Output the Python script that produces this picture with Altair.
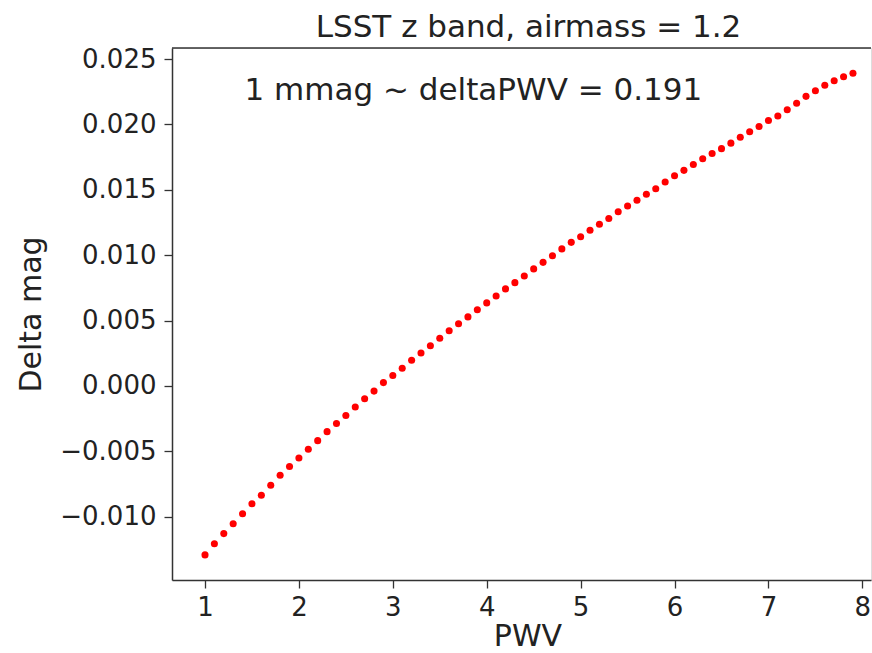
import altair as alt
import pandas as pd

pwv = [round(1.0 + 0.1 * i, 1) for i in range(70)]
delta_mmag = [
    -12.93, -12.07, -11.30, -10.54, -9.78, -9.02, -8.36, -7.60, -6.84, -6.17,
    -5.51, -4.85, -4.19, -3.50, -2.88, -2.26, -1.62, -0.99, -0.40, 0.25,
    0.79, 1.35, 1.96, 2.52, 3.07, 3.64, 4.22, 4.75, 5.28, 5.82,
    6.35, 6.88, 7.42, 7.90, 8.41, 8.95, 9.45, 9.96, 10.48, 10.98,
    11.41, 11.91, 12.37, 12.80, 13.32, 13.76, 14.20, 14.66, 15.08, 15.60,
    16.08, 16.49, 16.94, 17.38, 17.78, 18.15, 18.57, 19.02, 19.44, 19.85,
    20.30, 20.65, 21.12, 21.62, 22.15, 22.58, 23.00, 23.35, 23.65, 23.92,
]
delta_mag = [v / 1000.0 for v in delta_mmag]

x_ticks = [1, 2, 3, 4, 5, 6, 7, 8]
y_ticks = [-0.010, -0.005, 0.000, 0.005, 0.010, 0.015, 0.020, 0.025]

title_text = "LSST z band, airmass = 1.2"
note_text = "1 mmag ~ deltaPWV = 0.191"
note_x = [1.42]
note_y = [0.02187]

W, H = 699, 532
FONT = "DejaVu Sans"
TXT = "#222222"

df = pd.DataFrame({"PWV": pwv, "Delta mag": delta_mag})
note_df = pd.DataFrame({"x": note_x, "y": note_y, "t": [note_text]})
title_df = pd.DataFrame({"t": [title_text]})

xscale = alt.Scale(domain=[0.6485, 8.092], nice=False, zero=False)
yscale = alt.Scale(domain=[-0.01485, 0.02585], nice=False, zero=False)

points = alt.Chart(df).mark_circle(color="#ff0000", size=50, opacity=1).encode(
    x=alt.X("PWV:Q", scale=xscale,
            axis=alt.Axis(values=x_ticks, format="d", title="PWV",
                          labelFontSize=26, titleFontSize=30, labelFont=FONT, titleFont=FONT,
                          labelColor=TXT, titleColor=TXT, titleFontWeight="normal",
                          domainColor="#333333", domainWidth=1.5, tickColor="#333333",
                          tickWidth=1.3, tickSize=8, labelPadding=6, grid=False,
                          titleX=W / 2 + 6, titleY=65, titleBaseline="alphabetic")),
    y=alt.Y("Delta mag:Q", scale=yscale,
            axis=alt.Axis(values=y_ticks, format=".3f", title="Delta mag",
                          labelFontSize=26, titleFontSize=30, labelFont=FONT, titleFont=FONT,
                          labelColor=TXT, titleColor=TXT, titleFontWeight="normal",
                          domainColor="#333333", domainWidth=1.5, tickColor="#333333",
                          tickWidth=1.3, tickSize=8, labelPadding=8, grid=False,
                          titleX=-132, titleY=H / 2, titleAngle=-90,
                          titleBaseline="alphabetic", titleAlign="center")),
)

note = alt.Chart(note_df).mark_text(
    align="left", baseline="alphabetic", fontSize=31, font=FONT, color=TXT
).encode(x=alt.X("x:Q", scale=xscale), y=alt.Y("y:Q", scale=yscale), text="t:N")

title = alt.Chart(title_df).mark_text(
    align="center", baseline="alphabetic", fontSize=31, font=FONT, color=TXT
).encode(x=alt.value(W / 2 + 7), y=alt.value(-11), text="t:N")

top_line = alt.Chart(note_df).mark_rule(color="#333333", strokeWidth=1.5).encode(
    x=alt.value(0), x2=alt.value(W), y=alt.value(0)
)

chart = alt.layer(points, note, title, top_line).properties(
    width=W, height=H,
    autosize=alt.AutoSizeParams(type="none"),
    padding={"left": 172, "top": 48, "right": 1, "bottom": 73},
).configure_view(stroke=None).configure(background="white")

chart.save("out.html", embed_options={"renderer": "svg", "actions": False})
